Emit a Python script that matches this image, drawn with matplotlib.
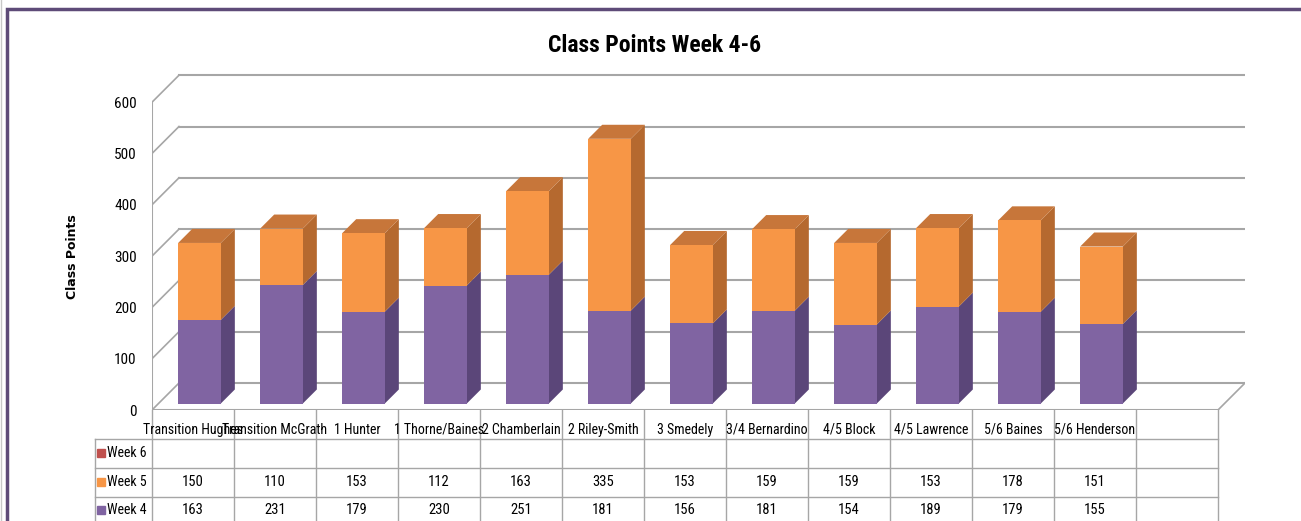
import matplotlib
matplotlib.use('Agg')
import matplotlib.pyplot as plt
import matplotlib.transforms as mtransforms
from matplotlib import font_manager as fm
from matplotlib.patches import Polygon, Rectangle
from matplotlib.lines import Line2D

# data
classes = ['Transition Hughes', 'Transition McGrath', '1 Hunter', '1 Thorne/Baines',
           '2 Chamberlain', '2 Riley-Smith', '3 Smedely', '3/4 Bernardino',
           '4/5 Block', '4/5 Lawrence', '5/6 Baines', '5/6 Henderson']
week4 = [163, 231, 179, 230, 251, 181, 156, 181, 154, 189, 179, 155]
week5 = [150, 110, 153, 112, 163, 335, 153, 159, 159, 153, 178, 151]
week6 = [None] * 12          # no points entered yet
series = ['Week 6', 'Week 5', 'Week 4']
yticks = [0, 100, 200, 300, 400, 500, 600]

# colours
purple, purple_side, purple_top = '#8064A2', '#5B4679', '#6E5490'
orange, orange_side, orange_top = '#F79646', '#B5692F', '#C7763A'
red = '#C0504D'
grid = '#A6A6A6'

# narrow font if there is one
names = {f.name for f in fm.fontManager.ttflist}
narrow = 'Liberation Sans'
for cand in ['Liberation Sans Narrow', 'Roboto Condensed', 'Open Sans Condensed',
             'Noto Sans Condensed', 'DejaVu Sans Condensed', 'Arial Narrow']:
    if cand in names:
        narrow = cand
        break
fam = [narrow, 'DejaVu Sans']

W, H = 1301, 521
fig = plt.figure(figsize=(W / 100, H / 100), dpi=100)

SC = 0.513          # px per point
CW = 82             # px per class
X0, Y0 = 152, 410   # px of front-left floor corner
DX = 27 / CW        # depth shift in x (data)
DY = 27 / SC        # depth shift in y (data)
YMAX = 660
ax = fig.add_axes([X0 / W, (H - Y0) / H, CW * (13 + DX) / W, YMAX * SC / H])
ax.set_xlim(-0.5, 12.5 + DX)
ax.set_ylim(0, YMAX)
ax.set_facecolor('none')
for s in ax.spines.values():
    s.set_visible(False)
ax.set_xticks([])
ax.set_yticks(yticks)
ax.tick_params(axis='y', length=0, pad=11, labelsize=11)
for lab in ax.get_yticklabels():
    lab.set_family(fam)


def P(x, v, d):
    return (x + d * DX, v + d * DY)


# walls + floor
for v in yticks:
    ax.plot([-0.5 + DX, 12.5 + DX], [v + DY, v + DY], color=grid, lw=1.5, zorder=1)
    ax.plot([-0.5, -0.5 + DX], [v, v + DY], color=grid, lw=1.2, zorder=1)
ax.plot([-0.5, -0.5], [0, 600], color=grid, lw=1.5, zorder=1)
ax.plot([-0.5, 12.5], [0, 0], color=grid, lw=1.5, zorder=1)
ax.plot([12.5, 12.5 + DX], [0, DY], color=grid, lw=1.2, zorder=1)

# bars
BW, F1, F2 = 0.52, 0.24, 0.76
for i in range(len(classes)):
    segs = [(0, week4[i], purple, purple_side, purple_top),
            (week4[i], week4[i] + week5[i], orange, orange_side, orange_top)]
    for k, (b, t, cf, cs, ct) in enumerate(segs):
        ax.bar(i + F1 * DX, t - b, width=BW, bottom=b + F1 * DY, color=cf, zorder=3)
        r = i + BW / 2
        ax.add_patch(Polygon([P(r, b, F1), P(r, b, F2), P(r, t, F2), P(r, t, F1)],
                             closed=True, facecolor=cs, edgecolor='none', zorder=2))
        if k == len(segs) - 1:
            l = i - BW / 2
            ax.add_patch(Polygon([P(l, t, F1), P(r, t, F1), P(r, t, F2), P(l, t, F2)],
                                 closed=True, facecolor=ct, edgecolor='none', zorder=2))

# data table below the floor
tr = mtransforms.blended_transform_factory(ax.transData, fig.transFigure)
fy = lambda py: 1 - py / H
xl = -0.5 - 57 / CW
tl = '#A6A6A6'
for py in [439, 468, 497]:
    ax.add_line(Line2D([xl, 12.5], [fy(py), fy(py)], transform=tr, color=tl, lw=1, clip_on=False))
for k in range(14):
    ax.add_line(Line2D([-0.5 + k, -0.5 + k], [fy(410), 0], transform=tr, color=tl, lw=1, clip_on=False))
ax.add_line(Line2D([xl, xl], [fy(439), 0], transform=tr, color=tl, lw=1, clip_on=False))

hdr = 10 if narrow != 'Liberation Sans' else 9
for i, c in enumerate(classes):
    ax.text(i, fy(430), c, transform=tr, ha='center', va='center', fontsize=hdr, family=fam)

for name, vals, col, py in zip(series, [week6, week5, week4], [red, orange, purple], [453, 482, 510]):
    ax.plot([xl + 6 / CW], [fy(py)], marker='s', ms=5.5, color=col, transform=tr, clip_on=False)
    ax.text(xl + 12 / CW, fy(py), name, transform=tr, ha='left', va='center', fontsize=10, family=fam)
    for i, v in enumerate(vals):
        if v is not None:
            ax.text(i, fy(py), str(v), transform=tr, ha='center', va='center', fontsize=10.5, family=fam)

fig.text(655 / W, fy(45), 'Class Points Week 4-6', ha='center', va='center',
         fontsize=17, fontweight='bold', family=fam)
fig.text(72 / W, fy(257), 'Class Points', ha='center', va='center', rotation=90,
         fontsize=9, fontweight='bold', family='DejaVu Sans')

# frame
fig.add_artist(Rectangle((7 / W, -0.1), 1.2, fy(9) + 0.1, transform=fig.transFigure,
                         facecolor='none', edgecolor='#5E4B78', lw=2.5))
fig.add_artist(Line2D([1.5 / W, 1.5 / W], [0, 1], transform=fig.transFigure, color='#C8C8C8', lw=1))

fig.savefig('out.png', dpi=100)
